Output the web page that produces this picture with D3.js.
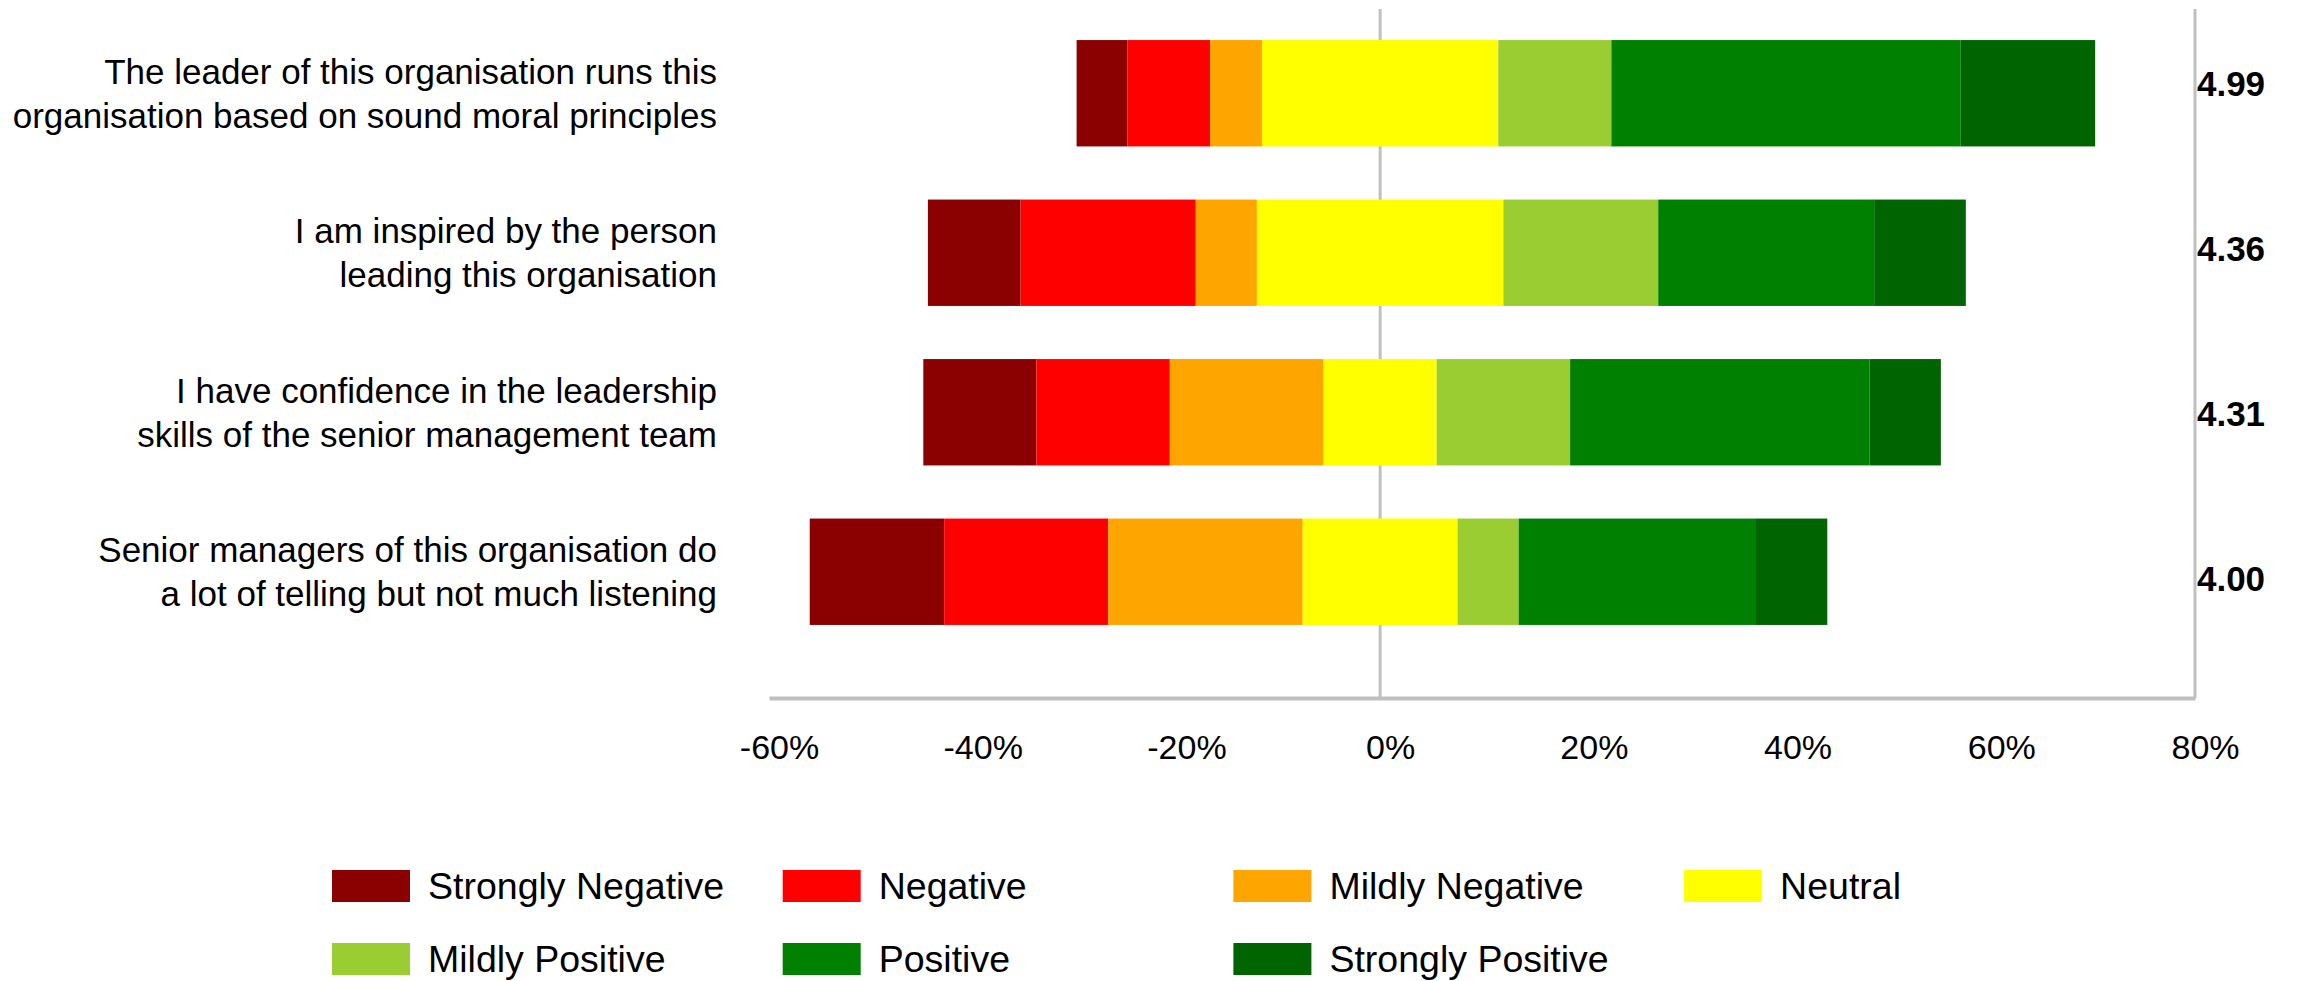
<!DOCTYPE html>
<html>
<head>
<meta charset="utf-8">
<script src="https://cdn.jsdelivr.net/npm/d3@7"></script>
<style>
  html, body { margin: 0; padding: 0; background: #ffffff; }
  svg { display: block; font-family: "Liberation Sans", Arial, sans-serif; }
</style>
</head>
<body>
<svg id="chart" width="2298" height="981"></svg>
<script>
// Survey statements (each split over two lines)
const questions = [
  ["The leader of this organisation runs this", "organisation based on sound moral principles"],
  ["I am inspired by the person", "leading this organisation"],
  ["I have confidence in the leadership", "skills of the senior management team"],
  ["Senior managers of this organisation do", "a lot of telling but not much listening"]
];

// Response levels and their colours
const levels = ["Strongly Negative", "Negative", "Mildly Negative", "Neutral",
                "Mildly Positive", "Positive", "Strongly Positive"];
const levelColors = ["#8B0000", "#FF0000", "#FFA500", "#FFFF00", "#9ACD32", "#008000", "#006400"];

// Share of responses (%) per statement, one array per level
const stronglyNegative = [5.0, 9.1, 11.1, 13.2];
const negative         = [8.1, 17.2, 13.1, 16.1];
const mildlyNegative   = [5.1, 6.0, 15.1, 19.1];
const neutral          = [23.2, 24.2, 11.1, 15.2];
const mildlyPositive   = [11.1, 15.2, 13.1, 6.0];
const positive         = [34.3, 21.2, 29.4, 23.3];
const stronglyPositive = [13.2, 9.0, 7.0, 7.0];

// Mean score per statement
const scores = [4.99, 4.36, 4.31, 4.00];

// Axis ticks (%)
const xTicks = [-60, -40, -20, 0, 20, 40, 60, 80];

const series = [stronglyNegative, negative, mildlyNegative, neutral,
                mildlyPositive, positive, stronglyPositive];

const svg = d3.select("#chart");

const x = d3.scaleLinear().domain([-60, 80]).range([769, 2195]);
const y = d3.scaleBand().domain(d3.range(questions.length))
  .range([13.5, 651.5]).paddingInner(0.333).paddingOuter(0.1665);
const yScore = d3.scaleBand().domain(d3.range(scores.length)).range([1, 661]);

const plotTop = 9, plotBottom = 698;

// Zero reference line and right frame edge
svg.append("line")
  .attr("x1", x(0)).attr("x2", x(0))
  .attr("y1", plotTop).attr("y2", plotBottom)
  .attr("stroke", "#c0c0c0").attr("stroke-width", 3);
svg.append("line")
  .attr("x1", x(80)).attr("x2", x(80))
  .attr("y1", plotTop).attr("y2", plotBottom)
  .attr("stroke", "#c0c0c0").attr("stroke-width", 3);

// Diverging stacks: the neutral block is centred on zero
const segments = [];
questions.forEach((q, i) => {
  let start = -(stronglyNegative[i] + negative[i] + mildlyNegative[i] + neutral[i] / 2);
  series.forEach((s, k) => {
    segments.push({ row: i, level: k, x0: start, x1: start + s[i] });
    start += s[i];
  });
});

svg.append("g").selectAll("rect").data(segments).join("rect")
  .attr("x", d => x(d.x0))
  .attr("width", d => x(d.x1) - x(d.x0))
  .attr("y", d => y(d.row))
  .attr("height", y.bandwidth())
  .attr("fill", d => levelColors[d.level]);

// Bottom axis
const axis = svg.append("g")
  .attr("transform", `translate(0,${plotBottom})`)
  .call(d3.axisBottom(x).tickValues(xTicks).tickSize(0).tickSizeOuter(0)
    .tickPadding(37).tickFormat(d => d + "%"));
axis.select(".domain").attr("stroke", "#bfbfbf").attr("stroke-width", 4);
axis.selectAll("text")
  .attr("x", 10)
  .attr("fill", "#000")
  .style("font-size", "34px")
  .style("font-family", "'Liberation Sans', Arial, sans-serif");

// Statement labels
const labels = svg.append("g").selectAll("text").data(questions).join("text")
  .attr("text-anchor", "end")
  .attr("font-size", 35)
  .attr("fill", "#000");
labels.each(function (lines, i) {
  const cy = y(i) + y.bandwidth() / 2;
  d3.select(this).selectAll("tspan").data(lines).join("tspan")
    .attr("x", 717)
    .attr("y", (d, j) => cy + (j === 0 ? -22 : 22))
    .attr("dy", "0.35em")
    .text(d => d);
});

// Mean scores column
svg.append("g").selectAll("text").data(scores).join("text")
  .attr("x", 2231)
  .attr("y", (d, i) => yScore(i) + yScore.bandwidth() / 2)
  .attr("dy", "0.35em")
  .attr("text-anchor", "middle")
  .attr("font-size", 35)
  .attr("font-weight", "bold")
  .attr("fill", "#000")
  .text(d => d3.format(".2f")(d));

// Legend: four columns, two rows
const legend = svg.append("g").selectAll("g").data(levels).join("g")
  .attr("transform", (d, i) => `translate(${332 + (i % 4) * 450.7},${i < 4 ? 886 : 959})`);
legend.append("rect")
  .attr("x", 0).attr("y", -16)
  .attr("width", 78).attr("height", 32)
  .attr("fill", (d, i) => levelColors[i]);
legend.append("text")
  .attr("x", 96).attr("y", 0).attr("dy", "0.35em")
  .attr("font-size", 37.5)
  .attr("fill", "#000")
  .text(d => d);
</script>
</body>
</html>
